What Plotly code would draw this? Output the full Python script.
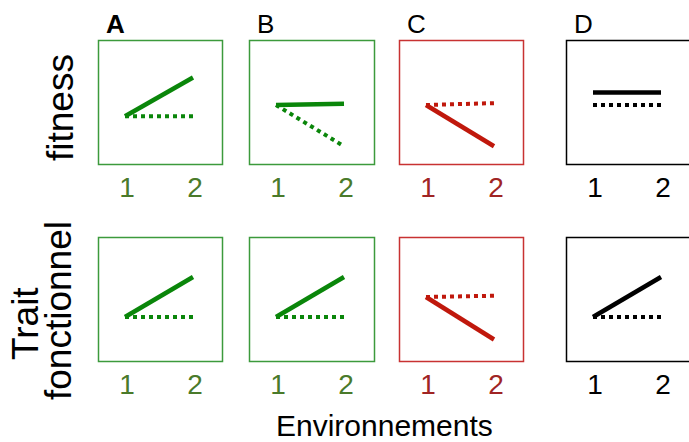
import plotly.graph_objects as go

# ---------------- data ----------------
panels = ["A", "B", "C", "D"]
environments = [1, 2]
tick_labels = ["1", "2"]
row_titles = ["fitness", "Trait fonctionnel"]
x_title = "Environnements"

# fitness (top row): solid and dotted lines per panel
fitness_solid = {"A": [3.9, 7.0], "B": [4.8, 4.9], "C": [4.8, 1.5], "D": [5.8, 5.8]}
fitness_dotted = {"A": [3.9, 3.9], "B": [4.8, 1.5], "C": [4.8, 4.95], "D": [4.8, 4.8]}
# trait fonctionnel (bottom row)
trait_solid = {"A": [3.6, 6.8], "B": [3.6, 6.8], "C": [5.2, 1.8], "D": [3.6, 6.8]}
trait_dotted = {"A": [3.6, 3.6], "B": [3.6, 3.6], "C": [5.2, 5.3], "D": [3.6, 3.6]}

# ---------------- styles ----------------
W, H = 689, 442
line_col = {"A": "#0a860a", "B": "#0a860a", "C": "#c0180c", "D": "#000000"}
box_col = {"A": "#3c9a3c", "B": "#3c9a3c", "C": "#c83232", "D": "#000000"}
tick_col = {"A": "#4a7a2a", "B": "#4a7a2a", "C": "#a02424", "D": "#000000"}
FONT = "Liberation Sans, Arial, sans-serif"

# panel boxes in pixels (left, right); rows (top, bottom)
box_x = {"A": (98, 223), "B": (249, 375), "C": (399, 524), "D": (566, 691)}
row_y = [(40, 165), (237, 362)]
X1_OFF, X_SPAN = 27, 68  # pixel offset of env 1 from box left, px per unit

fig = go.Figure()
layout = dict(width=W, height=H, margin=dict(l=0, r=0, t=0, b=0),
              paper_bgcolor="white", plot_bgcolor="white", showlegend=False,
              font=dict(family=FONT, color="black"))
shapes, annotations = [], []

idx = 0
for r, (solid, dotted) in enumerate([(fitness_solid, fitness_dotted), (trait_solid, trait_dotted)]):
    y0px, y1px = row_y[r]
    for p in panels:
        idx += 1
        xa = "x" if idx == 1 else f"x{idx}"
        ya = "y" if idx == 1 else f"y{idx}"
        lx, rx = box_x[p]
        rx_dom = min(rx, W)
        dom_x = [lx / W, rx_dom / W]
        dom_y = [1 - y1px / H, 1 - y0px / H]
        xr0 = 1 - X1_OFF / X_SPAN
        xr1 = xr0 + (rx_dom - lx) / X_SPAN
        layout["xaxis" if idx == 1 else f"xaxis{idx}"] = dict(
            domain=dom_x, range=[xr0, xr1], anchor=ya, showgrid=False, zeroline=False,
            showline=False, tickmode="array", tickvals=environments, ticktext=tick_labels,
            ticks="", tickfont=dict(size=28, color=tick_col[p], family=FONT),
            ticklabelstandoff=3, ticklabelshift=2, fixedrange=True)
        layout["yaxis" if idx == 1 else f"yaxis{idx}"] = dict(
            domain=dom_y, range=[0, 10], anchor=xa, showgrid=False, zeroline=False,
            showline=False, showticklabels=False, ticks="", fixedrange=True)
        fig.add_trace(go.Scatter(x=environments, y=dotted[p], mode="lines", xaxis=xa, yaxis=ya,
                                 line=dict(color=line_col[p], width=4, dash="dot"),
                                 hoverinfo="skip"))
        fig.add_trace(go.Scatter(x=environments, y=solid[p], mode="lines", xaxis=xa, yaxis=ya,
                                 line=dict(color=line_col[p], width=4.5),
                                 hoverinfo="skip"))
        shapes.append(dict(type="rect", xref="paper", yref="paper",
                           x0=(lx + 0.5) / W, x1=(rx - 0.5) / W,
                           y0=1 - (y1px - 0.5) / H, y1=1 - (y0px + 0.5) / H,
                           line=dict(color=box_col[p], width=1.5), fillcolor="rgba(0,0,0,0)"))
        if r == 0:
            annotations.append(dict(text=f"<b>{p}</b>" if p == "A" else p,
                                    xref="paper", yref="paper",
                                    x=(lx + 6) / W, y=1 - 41 / H,
                                    xanchor="left", yanchor="bottom", showarrow=False,
                                    font=dict(size=26, color="black", family=FONT)))

# row titles (rotated)
annotations.append(dict(text=row_titles[0], xref="paper", yref="paper", x=60 / W, y=1 - 108 / H,
                        textangle=-90, showarrow=False, xanchor="center", yanchor="middle",
                        font=dict(size=37, color="black", family=FONT)))
t_words = row_titles[1].split(" ")
annotations.append(dict(text=t_words[0], xref="paper", yref="paper", x=25 / W, y=1 - 324 / H,
                        textangle=-90, showarrow=False, xanchor="center", yanchor="middle",
                        font=dict(size=37, color="black", family=FONT)))
annotations.append(dict(text=t_words[1], xref="paper", yref="paper", x=58 / W, y=1 - 311 / H,
                        textangle=-90, showarrow=False, xanchor="center", yanchor="middle",
                        font=dict(size=37, color="black", family=FONT)))
annotations.append(dict(text=x_title, xref="paper", yref="paper", x=384 / W, y=1 - 425 / H,
                        showarrow=False, xanchor="center", yanchor="middle",
                        font=dict(size=30, color="black", family=FONT)))

layout["shapes"] = shapes
layout["annotations"] = annotations
fig.update_layout(**layout)
fig.write_html("out.html", config={"displayModeBar": False},
               post_script="document.body.style.margin='0';document.body.style.padding='0';")
